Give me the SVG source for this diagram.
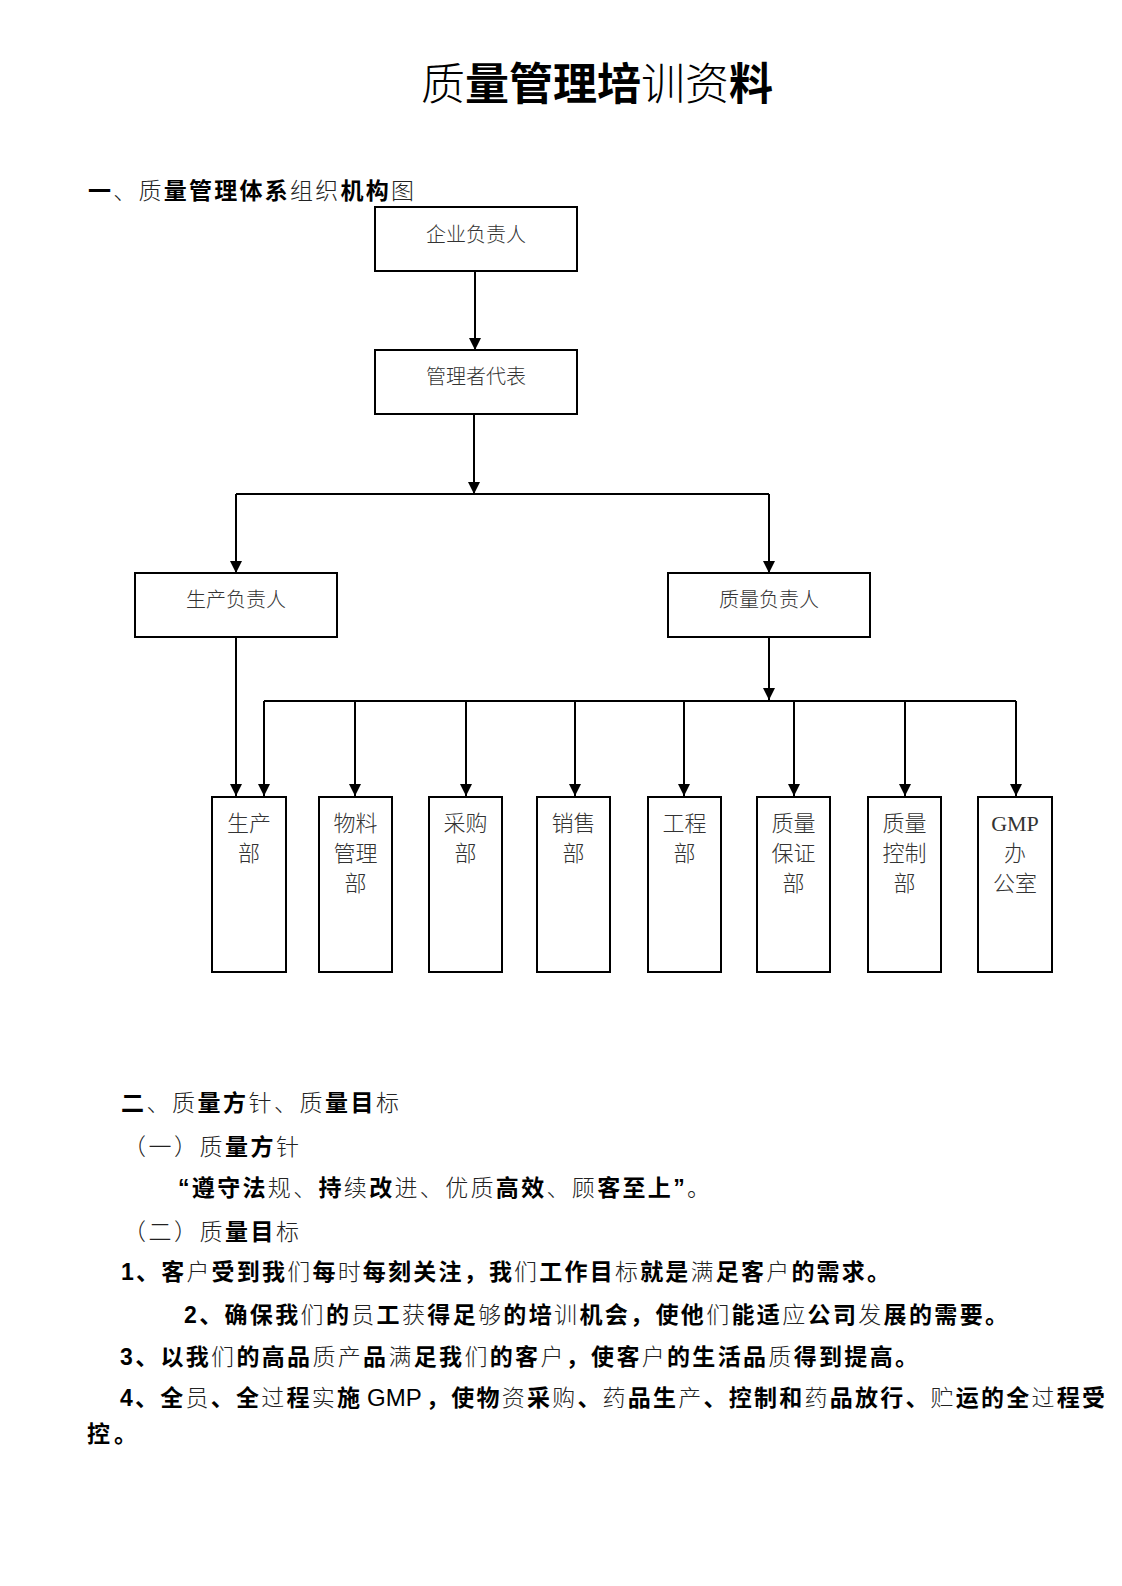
<svg xmlns="http://www.w3.org/2000/svg" width="1122" height="1586" viewBox="0 0 1122 1586">
<style>
.t{font-family:"Liberation Sans","Noto Sans CJK SC",sans-serif;font-size:23px;fill:#000;font-weight:300}
.b{font-weight:700}
.r{font-weight:300;fill:#222}
.title{font-family:"Liberation Sans","Noto Sans CJK SC",sans-serif;font-size:44px;fill:#000;font-weight:300}
.box{fill:#fff;stroke:#000;stroke-width:2}
.bt{font-family:"Liberation Serif","Noto Sans CJK SC",serif;font-size:20px;fill:#333;font-weight:300;text-anchor:middle}
.dt{font-family:"Liberation Serif","Noto Sans CJK SC",serif;font-size:22px;fill:#333;font-weight:300;text-anchor:middle}
.ln{fill:none;stroke:#000;stroke-width:2}
.ar{fill:none;stroke:#000;stroke-width:2;marker-end:url(#arr)}
</style>
<defs>
<marker id="arr" markerUnits="userSpaceOnUse" markerWidth="12" markerHeight="12" refX="12" refY="6" orient="auto">
<path d="M0,0 L12,6 L0,12 z" fill="#000"/>
</marker>
</defs>
<rect width="1122" height="1586" fill="#fff"/>

<text class="title" x="421" y="100" textLength="352"><tspan>质</tspan><tspan class="b">量管理培</tspan><tspan>训资</tspan><tspan class="b">料</tspan></text>

<text class="t" x="88" y="199" textLength="326"><tspan class="b">一</tspan><tspan class="r">、质</tspan><tspan class="b">量管理体系</tspan><tspan class="r">组织</tspan><tspan class="b">机构</tspan><tspan class="r">图</tspan></text>

<g id="connectors">
<path class="ar" d="M475,271 V350"/>
<path class="ar" d="M474,414 V494"/>
<path class="ln" d="M236,494 H769"/>
<path class="ar" d="M236,494 V573"/>
<path class="ar" d="M769,494 V573"/>
<path class="ar" d="M236,637 V796"/>
<path class="ar" d="M769,637 V700"/>
<path class="ln" d="M264,701 H1016"/>
<path class="ar" d="M264,701 V796"/>
<path class="ar" d="M355,701 V796"/>
<path class="ar" d="M466,701 V796"/>
<path class="ar" d="M575,701 V796"/>
<path class="ar" d="M684,701 V796"/>
<path class="ar" d="M794,701 V796"/>
<path class="ar" d="M905,701 V796"/>
<path class="ar" d="M1016,701 V796"/>
</g>

<g id="n-qiye"><rect class="box" x="375" y="207" width="202" height="64"/><text class="bt" x="476" y="242">企业负责人</text></g>
<g id="n-guanli"><rect class="box" x="375" y="350" width="202" height="64"/><text class="bt" x="476" y="384">管理者代表</text></g>
<g id="n-shengchan"><rect class="box" x="135" y="573" width="202" height="64"/><text class="bt" x="236" y="607">生产负责人</text></g>
<g id="n-zhiliang"><rect class="box" x="668" y="573" width="202" height="64"/><text class="bt" x="769" y="607">质量负责人</text></g>

<g id="d1"><rect class="box" x="212" y="797" width="74" height="175"/><text class="dt"><tspan x="249" y="831">生产</tspan><tspan x="249" y="861">部</tspan></text></g>
<g id="d2"><rect class="box" x="319" y="797" width="73" height="175"/><text class="dt"><tspan x="355.5" y="831">物料</tspan><tspan x="355.5" y="861">管理</tspan><tspan x="355.5" y="891">部</tspan></text></g>
<g id="d3"><rect class="box" x="429" y="797" width="73" height="175"/><text class="dt"><tspan x="465.5" y="831">采购</tspan><tspan x="465.5" y="861">部</tspan></text></g>
<g id="d4"><rect class="box" x="537" y="797" width="73" height="175"/><text class="dt"><tspan x="573.5" y="831">销售</tspan><tspan x="573.5" y="861">部</tspan></text></g>
<g id="d5"><rect class="box" x="648" y="797" width="73" height="175"/><text class="dt"><tspan x="684.5" y="831">工程</tspan><tspan x="684.5" y="861">部</tspan></text></g>
<g id="d6"><rect class="box" x="757" y="797" width="73" height="175"/><text class="dt"><tspan x="793.5" y="831">质量</tspan><tspan x="793.5" y="861">保证</tspan><tspan x="793.5" y="891">部</tspan></text></g>
<g id="d7"><rect class="box" x="868" y="797" width="73" height="175"/><text class="dt"><tspan x="904.5" y="831">质量</tspan><tspan x="904.5" y="861">控制</tspan><tspan x="904.5" y="891">部</tspan></text></g>
<g id="d8"><rect class="box" x="978" y="797" width="74" height="175"/><text class="dt"><tspan x="1015" y="831">GMP</tspan><tspan x="1015" y="861">办</tspan><tspan x="1015" y="891">公室</tspan></text></g>

<text class="t" x="121" y="1111" textLength="278"><tspan class="b">二</tspan><tspan class="r">、质</tspan><tspan class="b">量方</tspan><tspan class="r">针、质</tspan><tspan class="b">量目</tspan><tspan class="r">标</tspan></text>
<text class="t" x="123" y="1155" textLength="176"><tspan class="r">（一）质</tspan><tspan class="b">量方</tspan><tspan class="r">针</tspan></text>
<text class="t" x="178" y="1196" textLength="532"><tspan class="b">“遵守法</tspan><tspan class="r">规、</tspan><tspan class="b">持</tspan><tspan class="r">续</tspan><tspan class="b">改</tspan><tspan class="r">进、优质</tspan><tspan class="b">高效</tspan><tspan class="r">、顾</tspan><tspan class="b">客至上”</tspan><tspan class="r">。</tspan></text>
<text class="t" x="123" y="1240" textLength="176"><tspan class="r">（二）质</tspan><tspan class="b">量目</tspan><tspan class="r">标</tspan></text>

<text class="t" x="121" y="1280" textLength="769"><tspan class="b">1、客</tspan><tspan class="r">户</tspan><tspan class="b">受到我</tspan><tspan class="r">们</tspan><tspan class="b">每</tspan><tspan class="r">时</tspan><tspan class="b">每刻关注，我</tspan><tspan class="r">们</tspan><tspan class="b">工作目</tspan><tspan class="r">标</tspan><tspan class="b">就是</tspan><tspan class="r">满</tspan><tspan class="b">足客</tspan><tspan class="r">户</tspan><tspan class="b">的需求。</tspan></text>
<text class="t" x="184" y="1323" textLength="824"><tspan class="b">2、确保我</tspan><tspan class="r">们</tspan><tspan class="b">的</tspan><tspan class="r">员</tspan><tspan class="b">工</tspan><tspan class="r">获</tspan><tspan class="b">得足</tspan><tspan class="r">够</tspan><tspan class="b">的培</tspan><tspan class="r">训</tspan><tspan class="b">机会，使他</tspan><tspan class="r">们</tspan><tspan class="b">能适</tspan><tspan class="r">应</tspan><tspan class="b">公司</tspan><tspan class="r">发</tspan><tspan class="b">展的需要。</tspan></text>
<text class="t" x="120" y="1365" textLength="798"><tspan class="b">3、以我</tspan><tspan class="r">们</tspan><tspan class="b">的高品</tspan><tspan class="r">质产</tspan><tspan class="b">品</tspan><tspan class="r">满</tspan><tspan class="b">足我</tspan><tspan class="r">们</tspan><tspan class="b">的客</tspan><tspan class="r">户</tspan><tspan class="b">，使客</tspan><tspan class="r">户</tspan><tspan class="b">的生活品</tspan><tspan class="r">质</tspan><tspan class="b">得到提高。</tspan></text>
<text class="t" x="120" y="1406" textLength="240"><tspan class="b">4、全</tspan><tspan class="r">员</tspan><tspan class="b">、全</tspan><tspan class="r">过</tspan><tspan class="b">程</tspan><tspan class="r">实</tspan><tspan class="b">施</tspan></text>
<text class="t" x="367" y="1406" style="font-size:24px">GMP</text>
<text class="t" x="426" y="1406" textLength="679"><tspan class="b">，使物</tspan><tspan class="r">资</tspan><tspan class="b">采</tspan><tspan class="r">购</tspan><tspan class="b">、</tspan><tspan class="r">药</tspan><tspan class="b">品生</tspan><tspan class="r">产</tspan><tspan class="b">、控制和</tspan><tspan class="r">药</tspan><tspan class="b">品放行、</tspan><tspan class="r">贮</tspan><tspan class="b">运的全</tspan><tspan class="r">过</tspan><tspan class="b">程受</tspan></text>
<text class="t" x="87" y="1442" textLength="50"><tspan class="b">控。</tspan></text>
</svg>
